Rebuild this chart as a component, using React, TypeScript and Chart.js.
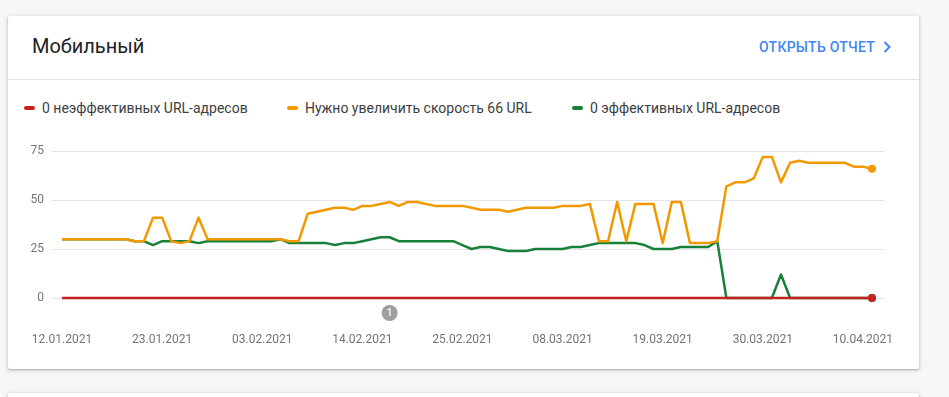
import React, { useEffect, useRef } from 'react';
import { Chart, registerables } from 'chart.js';

Chart.register(...registerables);

const DATES = [
  '12.01.2021', '13.01.2021', '14.01.2021', '15.01.2021', '16.01.2021', '17.01.2021', '18.01.2021', '19.01.2021', '20.01.2021', '21.01.2021',
  '22.01.2021', '23.01.2021', '24.01.2021', '25.01.2021', '26.01.2021', '27.01.2021', '28.01.2021', '29.01.2021', '30.01.2021', '31.01.2021',
  '01.02.2021', '02.02.2021', '03.02.2021', '04.02.2021', '05.02.2021', '06.02.2021', '07.02.2021', '08.02.2021', '09.02.2021', '10.02.2021',
  '11.02.2021', '12.02.2021', '13.02.2021', '14.02.2021', '15.02.2021', '16.02.2021', '17.02.2021', '18.02.2021', '19.02.2021', '20.02.2021',
  '21.02.2021', '22.02.2021', '23.02.2021', '24.02.2021', '25.02.2021', '26.02.2021', '27.02.2021', '28.02.2021', '01.03.2021', '02.03.2021',
  '03.03.2021', '04.03.2021', '05.03.2021', '06.03.2021', '07.03.2021', '08.03.2021', '09.03.2021', '10.03.2021', '11.03.2021', '12.03.2021',
  '13.03.2021', '14.03.2021', '15.03.2021', '16.03.2021', '17.03.2021', '18.03.2021', '19.03.2021', '20.03.2021', '21.03.2021', '22.03.2021',
  '23.03.2021', '24.03.2021', '25.03.2021', '26.03.2021', '27.03.2021', '28.03.2021', '29.03.2021', '30.03.2021', '31.03.2021', '01.04.2021',
  '02.04.2021', '03.04.2021', '04.04.2021', '05.04.2021', '06.04.2021', '07.04.2021', '08.04.2021', '09.04.2021', '10.04.2021', '11.04.2021',
];

const TICK_INDEXES = [0, 11, 22, 33, 44, 55, 66, 77, 88];
const Y_TICKS = [0, 25, 50, 75];

const POOR = [
  0, 0, 0, 0, 0, 0, 0, 0, 0, 0,
  0, 0, 0, 0, 0, 0, 0, 0, 0, 0,
  0, 0, 0, 0, 0, 0, 0, 0, 0, 0,
  0, 0, 0, 0, 0, 0, 0, 0, 0, 0,
  0, 0, 0, 0, 0, 0, 0, 0, 0, 0,
  0, 0, 0, 0, 0, 0, 0, 0, 0, 0,
  0, 0, 0, 0, 0, 0, 0, 0, 0, 0,
  0, 0, 0, 0, 0, 0, 0, 0, 0, 0,
  0, 0, 0, 0, 0, 0, 0, 0, 0, 0,
];

const NEEDS_IMPROVEMENT = [
  30, 30, 30, 30, 30, 30, 30, 30,
  29, 29, 41, 41, 29, 28, 29, 41,
  30, 30, 30, 30, 30, 30, 30, 30,
  30, 29, 29, 43, 44, 45, 46, 46,
  45, 47, 47, 48, 49, 47, 49, 49,
  48, 47, 47, 47, 47, 46, 45, 45,
  45, 44, 45, 46, 46, 46, 46, 47,
  47, 47, 48, 29, 29, 49, 29, 48,
  48, 48, 28, 49, 49, 28, 28, 28,
  29, 57, 59, 59, 61, 72, 72, 59,
  69, 70, 69, 69, 69, 69, 69, 67,
  67, 66,
];

const GOOD = [
  30, 30, 30, 30, 30, 30, 30, 30,
  29, 29, 27, 29, 29, 29, 29, 28,
  29, 29, 29, 29, 29, 29, 29, 29,
  30, 28, 28, 28, 28, 28, 27, 28,
  28, 29, 30, 31, 31, 29, 29, 29,
  29, 29, 29, 29, 27, 25, 26, 26,
  25, 24, 24, 24, 25, 25, 25, 25,
  26, 26, 27, 28, 28, 28, 28, 28,
  27, 25, 25, 25, 26, 26, 26, 26,
  29, 0, 0, 0, 0, 0, 0, 12,
  0, 0, 0, 0, 0, 0, 0, 0,
  0, 0,
];

const SERIES_NAMES = [
  '0 неэффективных URL-адресов',
  'Нужно увеличить скорость 66 URL',
  '0 эффективных URL-адресов',
];
const SERIES_COLORS = ['#c5221f', '#f29900', '#188038'];

const ANNOTATIONS = [{ index: 36, label: '1' }];

const annotationPlugin = {
  id: 'dateAnnotations',
  afterDraw(chart: any) {
    const { ctx, chartArea } = chart;
    const x = chart.scales.x;
    ANNOTATIONS.forEach((a) => {
      const px = x.getPixelForValue(a.index);
      const py = chartArea.bottom + 15;
      ctx.save();
      ctx.beginPath();
      ctx.arc(px, py, 8, 0, Math.PI * 2);
      ctx.fillStyle = '#9e9e9e';
      ctx.fill();
      ctx.fillStyle = '#ffffff';
      ctx.font = '500 10px Roboto';
      ctx.textAlign = 'center';
      ctx.textBaseline = 'middle';
      ctx.fillText(a.label, px, py + 0.5);
      ctx.restore();
    });
  },
};

const toPoints = (arr: number[]) => arr.map((v, i) => ({ x: i, y: v }));

const cardShadow = '0 1px 2px rgba(60,64,67,0.3), 0 1px 4px 1px rgba(60,64,67,0.15)';

export default function App() {
  const ref = useRef<HTMLCanvasElement>(null);

  useEffect(() => {
    if (!ref.current) return;
    Chart.defaults.font.family = 'Roboto';
    const seriesData = [POOR, NEEDS_IMPROVEMENT, GOOD];
    const last = DATES.length - 1;
    const chart = new Chart(ref.current, {
      type: 'line',
      data: {
        datasets: seriesData.map((d, i) => ({
          label: SERIES_NAMES[i],
          data: toPoints(d),
          borderColor: SERIES_COLORS[i],
          backgroundColor: SERIES_COLORS[i],
          borderWidth: 2.5,
          tension: 0,
          fill: false,
          clip: false as any,
          borderJoinStyle: 'round' as const,
          pointRadius: (c: any) => (c.dataIndex === last ? 4 : 0),
          pointHoverRadius: 0,
          pointBorderWidth: 0,
        })),
      },
      options: {
        animation: false,
        responsive: false,
        layout: { padding: { left: 0, right: 34, top: 10, bottom: 0 } },
        plugins: { legend: { display: false }, tooltip: { enabled: false } },
        scales: {
          x: {
            type: 'linear',
            min: -1.21,
            max: 90.43,
            grid: { display: false, drawTicks: false },
            border: { display: false },
            afterBuildTicks: (s: any) => {
              s.ticks = TICK_INDEXES.map((v) => ({ value: v }));
            },
            afterFit: (s: any) => {
              s.height = 71;
              s.paddingLeft = 0;
              s.paddingRight = 0;
            },
            ticks: {
              padding: 35,
              color: '#70757a',
              font: { size: 12 },
              maxRotation: 0,
              autoSkip: false,
              callback: (v: any) => DATES[v] ?? '',
            },
          },
          y: {
            min: 0,
            max: 75,
            afterBuildTicks: (s: any) => {
              s.ticks = Y_TICKS.map((v) => ({ value: v }));
            },
            afterFit: (s: any) => {
              s.width = 43;
              s.paddingTop = 0;
              s.paddingBottom = 0;
            },
            border: { display: false },
            grid: { color: '#e6e6e6', drawTicks: false },
            ticks: { padding: 7, color: '#70757a', font: { size: 12 } },
          },
        },
      } as any,
      plugins: [annotationPlugin],
    });
    return () => chart.destroy();
  }, []);

  const legendLefts = [16, 279, 564];

  return (
    <div style={{ position: 'fixed', inset: 0, background: '#f7f7f7', fontFamily: 'Roboto, sans-serif', overflow: 'hidden' }}>
      <div style={{ position: 'absolute', left: 8, top: 16, width: 911, height: 353, background: '#fff', boxShadow: cardShadow, borderRadius: 2 }}>
        <div style={{ position: 'absolute', left: 24, top: 18, fontSize: 20, lineHeight: '24px', color: '#202124' }}>Мобильный</div>
        <div style={{ position: 'absolute', right: 28, top: 21, height: 20, display: 'flex', alignItems: 'center', color: '#4285f4', fontSize: 14, fontWeight: 500, letterSpacing: 0.25 }}>
          <span>ОТКРЫТЬ ОТЧЕТ</span>
          <svg width="8" height="12" viewBox="0 0 8 12" style={{ marginLeft: 8 }}>
            <path d="M1.5 1 L6.5 6 L1.5 11" fill="none" stroke="#4285f4" strokeWidth="2" />
          </svg>
        </div>
        <div style={{ position: 'absolute', left: 0, right: 0, top: 63, height: 1, background: '#e0e0e0' }} />
        {SERIES_NAMES.map((name, i) => (
          <div key={name} style={{ position: 'absolute', left: legendLefts[i], top: 82, height: 20, display: 'flex', alignItems: 'center', fontSize: 14, color: '#3c4043' }}>
            <span style={{ display: 'inline-block', width: 11, height: 4, borderRadius: 2, background: SERIES_COLORS[i], marginRight: 7 }} />
            <span>{name}</span>
          </div>
        ))}
        <div style={{ position: 'absolute', left: 0, top: 125, width: 911, height: 228 }}>
          <canvas ref={ref} width={911} height={228} style={{ width: 911, height: 228, display: 'block' }} />
        </div>
      </div>
      <div style={{ position: 'absolute', left: 8, top: 393, width: 911, height: 60, background: '#fff', boxShadow: cardShadow, borderRadius: 2 }} />
    </div>
  );
}
